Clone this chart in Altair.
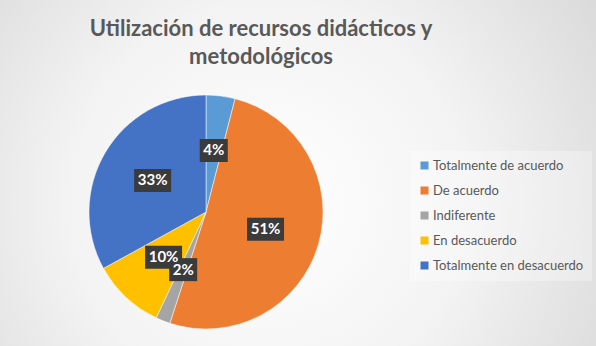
import altair as alt
import pandas as pd

categories = ["Totalmente de acuerdo", "De acuerdo", "Indiferente", "En desacuerdo", "Totalmente en desacuerdo"]
values = [4, 51, 2, 10, 33]
colors = ["#5B9BD5", "#ED7D31", "#A5A5A5", "#FFC000", "#4472C4"]
title_lines = ["Utilización de recursos didácticos y", "metodológicos"]

df = pd.DataFrame({"cat": categories, "val": values, "idx": list(range(len(categories)))})
df["label"] = [f"{v}%" for v in values]

CX, CY, R, RL = 206, 212, 117, 62
FONT = "Lato"

base = alt.Chart(df)

bg = alt.Chart(alt.Data(values=[{}])).mark_rect(
    color={
        "gradient": "radial",
        "x1": 0.45, "y1": 0.55, "r1": 0,
        "x2": 0.45, "y2": 0.55, "r2": 0.75,
        "stops": [
            {"offset": 0, "color": "#ffffff"},
            {"offset": 0.45, "color": "#f3f3f3"},
            {"offset": 1, "color": "#d2d2d2"},
        ],
    }
).encode(x=alt.value(0), x2=alt.value(596), y=alt.value(0), y2=alt.value(346))

pie = base.mark_arc(radius=R, stroke="#ffffff", strokeWidth=0.5).encode(
    theta=alt.Theta("val:Q", stack=True),
    order=alt.Order("idx:Q"),
    color=alt.Color(
        "cat:N",
        sort=categories,
        scale=alt.Scale(domain=categories, range=colors),
        legend=alt.Legend(
            title=None,
            orient="none",
            legendX=410,
            legendY=151,
            padding=8,
            fillColor="rgba(255,255,255,0.3)",
            symbolType="square",
            symbolSize=64,
            symbolStrokeWidth=0,
            labelFont=FONT,
            labelFontSize=13,
            labelColor="#595959",
            labelOffset=2,
            rowPadding=11,
        ),
    ),
    x=alt.value(CX),
    y=alt.value(CY),
)

lab = base.transform_window(
    cum="sum(val)", sort=[alt.SortField("idx")], frame=[None, 0]
).transform_joinaggregate(
    tot="sum(val)"
).transform_calculate(
    ang="(datum.cum - datum.val/2) / datum.tot * 2 * PI",
).transform_calculate(
    px=f"{CX} + {RL} * sin(datum.ang)",
    py=f"{CY} - {RL} * cos(datum.ang)",
    bw="10 + 9 * length(datum.label)",
).transform_calculate(
    x1="datum.px - datum.bw/2",
    x2="datum.px + datum.bw/2",
    y1="datum.py - 11.5",
    y2="datum.py + 11.5",
)

boxes = lab.mark_rect(color="#3b3b3b").encode(
    x=alt.X("x1:Q", scale=None),
    x2="x2:Q",
    y=alt.Y("y1:Q", scale=None),
    y2="y2:Q",
)

texts = lab.mark_text(font=FONT, fontSize=15, fontWeight="bold", color="#ffffff", baseline="middle").encode(
    x=alt.X("px:Q", scale=None),
    y=alt.Y("py:Q", scale=None),
    text="label:N",
)

title = alt.Chart(alt.Data(values=[{}])).mark_text(
    text=title_lines,
    font=FONT,
    fontSize=22,
    fontWeight="bold",
    color="#595959",
    align="center",
    baseline="alphabetic",
    lineHeight=28,
).encode(x=alt.value(261), y=alt.value(36))

chart = alt.layer(bg, pie, boxes, texts, title).properties(
    width=596, height=346, padding=0, autosize=alt.AutoSizeParams(type="none")
).configure_view(stroke=None)

chart.save("out.html", embed_options={"renderer": "svg", "actions": False})
